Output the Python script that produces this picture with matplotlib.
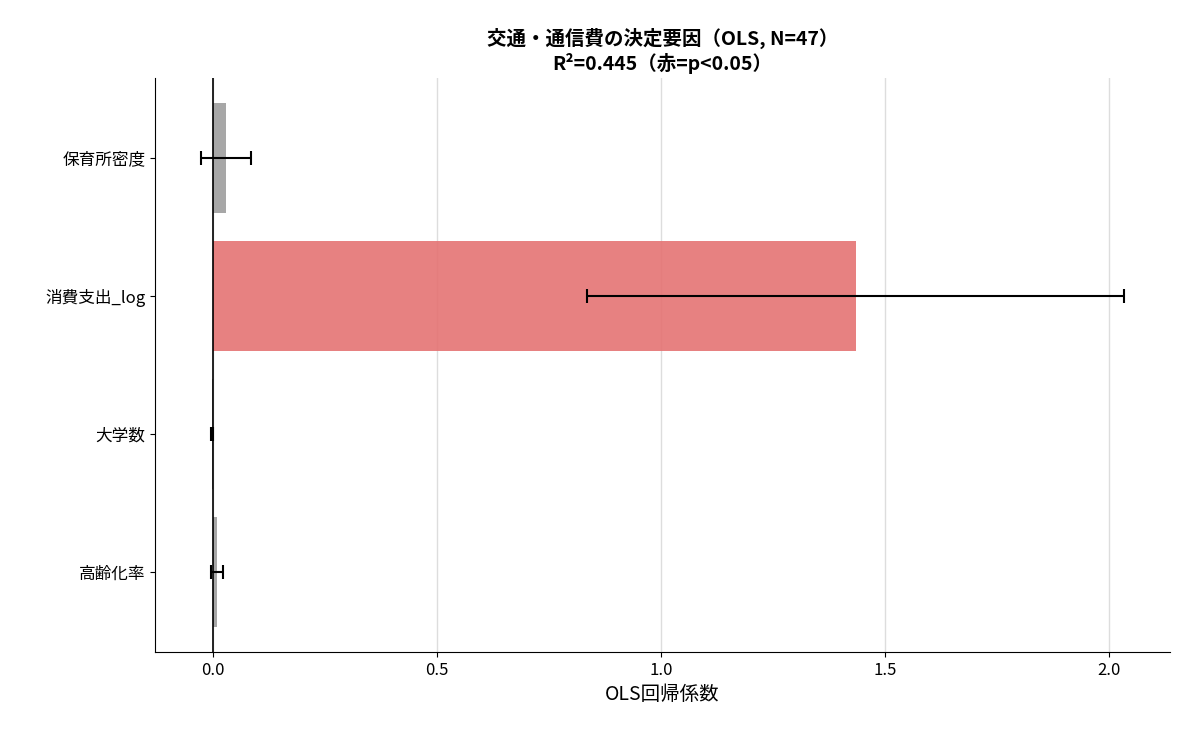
import matplotlib
matplotlib.use("Agg")
import matplotlib.pyplot as plt

plt.rcParams['font.family'] = ['Noto Sans CJK JP', 'DejaVu Sans']

labels = ["高齢化率", "大学数", "消費支出_log", "保育所密度"]
coefs = [0.009, -0.002, 1.435, 0.029]
errs = [0.013, 0.002, 0.600, 0.055]
signif = [False, False, True, False]

colors = ['#e57373' if s else '#9e9e9e' for s in signif]

fig, ax = plt.subplots(figsize=(11.85, 7.35), dpi=100)
ypos = list(range(len(labels)))
ax.barh(ypos, coefs, height=0.8, color=colors, alpha=0.9, zorder=2)
ax.errorbar(coefs, ypos, xerr=errs, fmt='none', ecolor='black', capsize=5, elinewidth=1.5, capthick=1.5, zorder=3)
ax.axvline(0, color='black', linewidth=1.2, zorder=4)
ax.set_yticks(ypos)
ax.set_yticklabels(labels, fontsize=12)
ax.set_xlim(-0.129, 2.136)
ax.set_ylim(-0.58, 3.58)
ax.set_xticks([0.0, 0.5, 1.0, 1.5, 2.0])
ax.set_xticklabels(["0.0", "0.5", "1.0", "1.5", "2.0"], fontsize=12)
ax.grid(axis='x', color='#dddddd', linewidth=1, zorder=0)
ax.set_axisbelow(True)
ax.spines['top'].set_visible(False)
ax.spines['right'].set_visible(False)
ax.set_xlabel("OLS回帰係数", fontsize=14)
ax.set_title("交通・通信費の決定要因（OLS, N=47）\nR²=0.445（赤=p<0.05）", fontsize=14, fontweight='bold')
fig.subplots_adjust(left=0.131, right=0.987, top=0.894, bottom=0.113)
fig.savefig("out.png", dpi=100)
